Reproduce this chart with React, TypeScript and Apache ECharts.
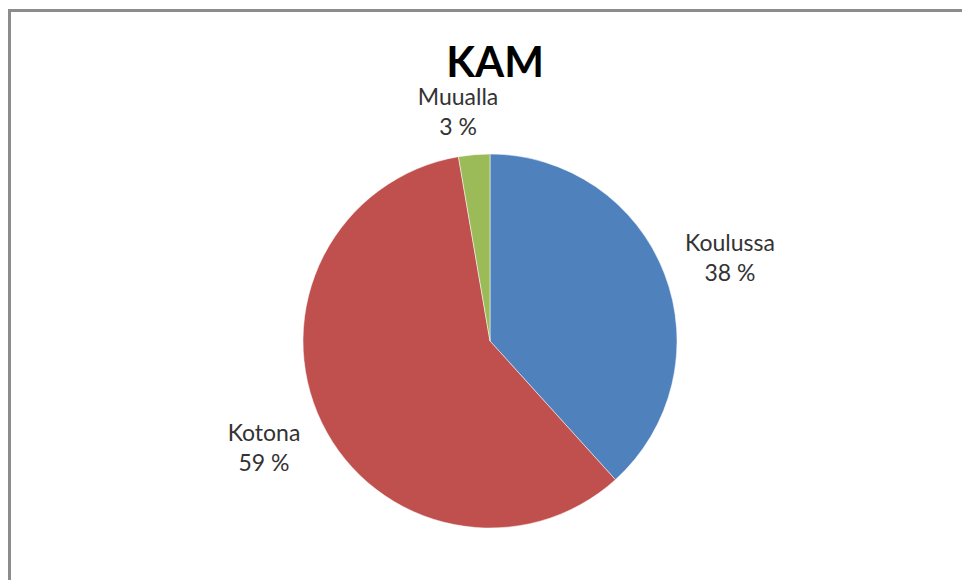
import React, { useEffect, useRef } from "react";
import * as echarts from "echarts";

const title = "KAM";
const categories = ["Koulussa", "Kotona", "Muualla"];
const values = [38.3, 59.0, 2.7];
const colors = ["#4F81BD", "#C0504D", "#9BBB59"];
const labelPos: [number, number][] = [
  [730, 257],
  [264, 447],
  [458, 111],
];

export default function App() {
  const ref = useRef<HTMLDivElement>(null);
  useEffect(() => {
    if (!ref.current) return;
    const chart = echarts.init(ref.current, null, { renderer: "svg" });
    chart.setOption({
      animation: false,
      backgroundColor: "#ffffff",
      title: {
        text: title,
        left: 490,
        top: 35,
        textAlign: "center",
        textStyle: {
          fontFamily: "Lato",
          fontWeight: "bold",
          fontSize: 42,
          color: "#000000",
        },
      },
      graphic: [
        {
          type: "rect",
          shape: { x: 9.5, y: 10.5, width: 1000, height: 1000 },
          style: { fill: "none", stroke: "#8c8c8c", lineWidth: 3 },
          silent: true,
        },
      ],
      series: [
        {
          type: "pie",
          center: [490, 341],
          radius: 187,
          startAngle: 90,
          clockwise: true,
          data: categories.map((c, i) => ({
            name: c,
            value: values[i],
            itemStyle: { color: colors[i] },
          })),
          itemStyle: { borderColor: "#ffffff", borderWidth: 0.5 },
          label: {
            show: true,
            position: "outside",
            formatter: (p: any) => `${p.name}\n${Math.round(p.percent)} %`,
            fontFamily: "Lato",
            fontSize: 23,
            lineHeight: 30,
            color: "#333333",
            align: "center",
          },
          labelLine: { show: false },
          labelLayout: (params: any) => {
            const pos = labelPos[params.dataIndex];
            return { x: pos[0], y: pos[1], align: "center", verticalAlign: "middle" };
          },
          emphasis: { disabled: true },
        },
      ],
    });
    return () => chart.dispose();
  }, []);
  return (
    <div
      ref={ref}
      style={{ position: "fixed", left: 0, top: 0, width: 962, height: 580 }}
    />
  );
}
